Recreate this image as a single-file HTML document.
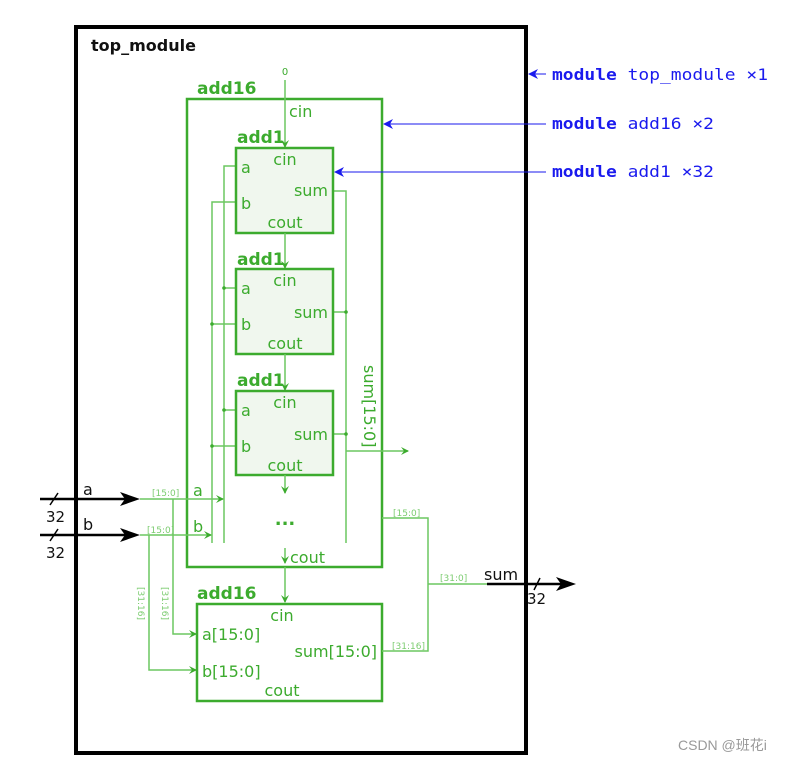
<!DOCTYPE html>
<html><head><meta charset="utf-8"><style>
html,body{margin:0;padding:0;background:#fff;}
svg{display:block}
.g{fill:#3cab2e;font-family:"DejaVu Sans","Liberation Sans",sans-serif;}
.lg{stroke:#6cc760;stroke-width:1.5;fill:none}
.sm{font-size:9px;fill:#7ccc70;font-family:"DejaVu Sans",sans-serif}
.bl{fill:#1a1aee;font-family:"DejaVu Sans Mono","Liberation Mono",monospace;font-size:16px}
</style></head><body>
<svg width="809" height="763" viewBox="0 0 809 763" xmlns="http://www.w3.org/2000/svg">
<defs>
<marker id="ga" markerWidth="8" markerHeight="8" refX="7" refY="4" orient="auto" markerUnits="userSpaceOnUse"><path d="M0,0 L8,4 L0,8 L3,4 z" fill="#3cab2e"/></marker>
<marker id="ba" markerWidth="10" markerHeight="10" refX="9" refY="5" orient="auto" markerUnits="userSpaceOnUse"><path d="M0,0 L10,5 L0,10 L3,5 z" fill="#1a1aee"/></marker>
</defs>
<rect x="76" y="27" width="450" height="726" fill="none" stroke="#000" stroke-width="4"/>
<text x="91" y="51" font-family="DejaVu Sans,sans-serif" font-weight="bold" font-size="16" fill="#111">top_module</text>

<rect x="187" y="99" width="195" height="468" fill="none" stroke="#3cab2e" stroke-width="2.5"/>
<text x="197" y="94" class="g" font-weight="bold" font-size="17">add16</text>
<text x="285" y="75" class="g" font-size="10" text-anchor="middle">0</text>
<line x1="285" y1="80" x2="285" y2="147" class="lg" marker-end="url(#ga)"/>
<text x="289" y="117" class="g" font-size="16">cin</text>

<polyline points="236,166 224,166 224,543" class="lg"/>
<polyline points="236,202 212,202 212,543" class="lg"/>
<polyline points="333,191 346,191 346,543" class="lg"/>
<line x1="224" y1="288" x2="236" y2="288" class="lg"/><circle cx="224" cy="288" r="1.8" fill="#3cab2e"/>
<line x1="212" y1="324" x2="236" y2="324" class="lg"/><circle cx="212" cy="324" r="1.8" fill="#3cab2e"/>
<line x1="333" y1="312" x2="346" y2="312" class="lg"/><circle cx="346" cy="312" r="1.8" fill="#3cab2e"/>
<line x1="224" y1="410" x2="236" y2="410" class="lg"/><circle cx="224" cy="410" r="1.8" fill="#3cab2e"/>
<line x1="212" y1="446" x2="236" y2="446" class="lg"/><circle cx="212" cy="446" r="1.8" fill="#3cab2e"/>
<line x1="333" y1="434" x2="346" y2="434" class="lg"/><circle cx="346" cy="434" r="1.8" fill="#3cab2e"/>
<line x1="346" y1="451" x2="408" y2="451" class="lg" marker-end="url(#ga)"/>
<text transform="translate(364,365) rotate(90)" class="g" font-size="16">sum[15:0]</text>

<g>
<rect x="236" y="148" width="97" height="85" fill="#f0f7ee" stroke="#3cab2e" stroke-width="2.5"/>
<text x="237" y="143" class="g" font-weight="bold" font-size="17">add1</text>
<text x="285" y="165" class="g" font-size="16" text-anchor="middle">cin</text>
<text x="241" y="173" class="g" font-size="16">a</text>
<text x="241" y="209" class="g" font-size="16">b</text>
<text x="328" y="196" class="g" font-size="16" text-anchor="end">sum</text>
<text x="285" y="228" class="g" font-size="16" text-anchor="middle">cout</text>
</g>
<line x1="285" y1="233" x2="285" y2="268" class="lg" marker-end="url(#ga)"/>
<g>
<rect x="236" y="269" width="97" height="85" fill="#f0f7ee" stroke="#3cab2e" stroke-width="2.5"/>
<text x="237" y="265" class="g" font-weight="bold" font-size="17">add1</text>
<text x="285" y="286" class="g" font-size="16" text-anchor="middle">cin</text>
<text x="241" y="294" class="g" font-size="16">a</text>
<text x="241" y="330" class="g" font-size="16">b</text>
<text x="328" y="318" class="g" font-size="16" text-anchor="end">sum</text>
<text x="285" y="349" class="g" font-size="16" text-anchor="middle">cout</text>
</g>
<line x1="285" y1="354" x2="285" y2="390" class="lg" marker-end="url(#ga)"/>
<g>
<rect x="236" y="391" width="97" height="84" fill="#f0f7ee" stroke="#3cab2e" stroke-width="2.5"/>
<text x="237" y="386" class="g" font-weight="bold" font-size="17">add1</text>
<text x="285" y="408" class="g" font-size="16" text-anchor="middle">cin</text>
<text x="241" y="416" class="g" font-size="16">a</text>
<text x="241" y="452" class="g" font-size="16">b</text>
<text x="328" y="440" class="g" font-size="16" text-anchor="end">sum</text>
<text x="285" y="471" class="g" font-size="16" text-anchor="middle">cout</text>
</g>
<line x1="285" y1="475" x2="285" y2="493" class="lg" marker-end="url(#ga)"/>
<text x="285" y="525" class="g" font-size="18" font-weight="bold" text-anchor="middle">...</text>
<line x1="285" y1="548" x2="285" y2="563" class="lg" marker-end="url(#ga)"/>
<text x="290" y="563" class="g" font-size="16">cout</text>
<line x1="285" y1="567" x2="285" y2="602" class="lg" marker-end="url(#ga)"/>

<line x1="40" y1="499" x2="132" y2="499" stroke="#000" stroke-width="2.5"/>
<path d="M120,492 L140,499 L120,506 L125,499 z" fill="#000"/>
<line x1="40" y1="535" x2="132" y2="535" stroke="#000" stroke-width="2.5"/>
<path d="M120,528 L140,535 L120,542 L125,535 z" fill="#000"/>
<line x1="50" y1="505" x2="58" y2="493" stroke="#000" stroke-width="1.5"/>
<line x1="50" y1="541" x2="58" y2="529" stroke="#000" stroke-width="1.5"/>
<text x="46" y="522" font-family="DejaVu Sans,sans-serif" font-size="15" fill="#111">32</text>
<text x="46" y="558" font-family="DejaVu Sans,sans-serif" font-size="15" fill="#111">32</text>
<text x="83" y="495" font-family="DejaVu Sans,sans-serif" font-size="16" fill="#111">a</text>
<text x="83" y="530" font-family="DejaVu Sans,sans-serif" font-size="16" fill="#111">b</text>

<line x1="140" y1="499" x2="223" y2="499" class="lg" marker-end="url(#ga)"/>
<line x1="140" y1="535" x2="211" y2="535" class="lg" marker-end="url(#ga)"/>
<text x="152" y="496" class="sm">[15:0]</text>
<text x="147" y="533" class="sm">[15:0]</text>
<text x="193" y="496" class="g" font-size="16">a</text>
<text x="193" y="532" class="g" font-size="16">b</text>
<polyline points="173,499 173,634 196,634" class="lg" marker-end="url(#ga)"/>
<polyline points="149,535 149,670 196,670" class="lg" marker-end="url(#ga)"/>
<text transform="translate(162,587) rotate(90)" class="sm">[31:16]</text>
<text transform="translate(138,587) rotate(90)" class="sm">[31:16]</text>

<rect x="197" y="604" width="185" height="97" fill="none" stroke="#3cab2e" stroke-width="2.5"/>
<text x="197" y="599" class="g" font-weight="bold" font-size="17">add16</text>
<text x="282" y="621" class="g" font-size="16" text-anchor="middle">cin</text>
<text x="202" y="640" class="g" font-size="16">a[15:0]</text>
<text x="377" y="657" class="g" font-size="16" text-anchor="end">sum[15:0]</text>
<text x="202" y="677" class="g" font-size="16">b[15:0]</text>
<text x="282" y="696" class="g" font-size="16" text-anchor="middle">cout</text>

<polyline points="382,518 428,518 428,651 382,651" class="lg"/>
<line x1="428" y1="584" x2="490" y2="584" class="lg"/>
<text x="393" y="516" class="sm">[15:0]</text>
<text x="392" y="649" class="sm">[31:16]</text>
<text x="440" y="581" class="sm">[31:0]</text>
<line x1="487" y1="584" x2="565" y2="584" stroke="#000" stroke-width="2.5"/>
<path d="M556,577 L576,584 L556,591 L561,584 z" fill="#000"/>
<line x1="534" y1="590" x2="540" y2="578" stroke="#000" stroke-width="1.5"/>
<text x="484" y="580" font-family="DejaVu Sans,sans-serif" font-size="16" fill="#111">sum</text>
<text x="527" y="604" font-family="DejaVu Sans,sans-serif" font-size="15" fill="#111">32</text>

<line x1="546" y1="74" x2="529" y2="74" stroke="#1a1aee" stroke-width="1" marker-end="url(#ba)"/>
<line x1="546" y1="124" x2="384" y2="124" stroke="#1a1aee" stroke-width="1" marker-end="url(#ba)"/>
<line x1="546" y1="172" x2="335" y2="172" stroke="#1a1aee" stroke-width="1" marker-end="url(#ba)"/>
<text x="552" y="80" class="bl" textLength="216" lengthAdjust="spacingAndGlyphs"><tspan font-weight="bold">module</tspan> top_module ×1</text>
<text x="552" y="129" class="bl" textLength="162" lengthAdjust="spacingAndGlyphs"><tspan font-weight="bold">module</tspan> add16 ×2</text>
<text x="552" y="177" class="bl" textLength="162" lengthAdjust="spacingAndGlyphs"><tspan font-weight="bold">module</tspan> add1 ×32</text>

<text x="678" y="750" font-family="Liberation Sans,Noto Sans CJK SC,sans-serif" font-size="14" fill="#999">CSDN @班花i</text>
</svg>
</body></html>
